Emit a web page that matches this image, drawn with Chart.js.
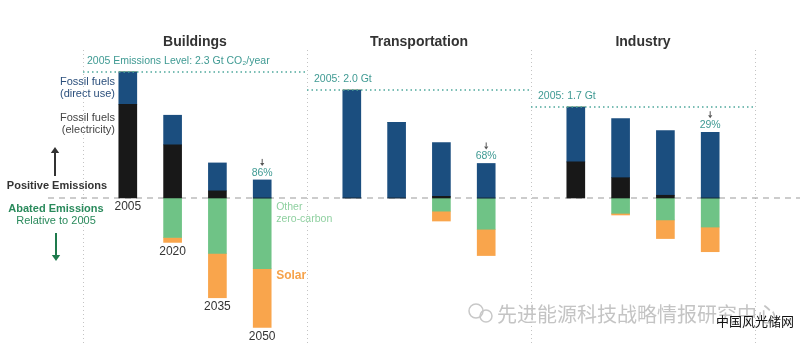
<!DOCTYPE html>
<html>
<head>
<meta charset="utf-8">
<script src="https://cdn.jsdelivr.net/npm/chart.js@4.4.1/dist/chart.umd.min.js"></script>
<style>
html, body { margin: 0; padding: 0; background: #fff; }
#wrap { width: 800px; height: 350px; position: relative; }
</style>
</head>
<body>
<div id="wrap"><canvas id="chart"></canvas></div>
<script>
var sectores = ['Buildings', 'Transportation', 'Industry'];
var anios = ['2005', '2020', '2035', '2050'];
var nivelBase = ['2005 Emissions Level: 2.3 Gt CO\u2082/year', '2005: 2.0 Gt', '2005: 1.7 Gt'];
var reduccion = ['86%', '68%', '29%'];

// Gt CO2 por sector (buildings, transportation, industry) x 2005/2020/2035/2050
var fosilElectricidad = [1.71, 0.97, 0.13, 0, 0, 0, 0.03, 0, 0.66, 0.37, 0.05, 0];
var fosilDirecto = [0.59, 0.54, 0.51, 0.33, 1.97, 1.38, 0.98, 0.63, 1.0, 1.08, 1.18, 1.2];
var otroCeroCarbono = [0, -0.72, -1.01, -1.29, 0, 0, -0.24, -0.57, 0, -0.28, -0.40, -0.53];
var solar = [0, -0.09, -0.81, -1.07, 0, 0, -0.18, -0.48, 0, -0.03, -0.34, -0.45];

var FUENTE = "'Liberation Sans', Arial, sans-serif";

// slots: hueco, 4 anios, hueco, 4 anios, hueco, 4 anios, hueco
function conHuecos(arr) {
    var out = [null];
    for (var s = 0; s < sectores.length; s++) {
        for (var a = 0; a < anios.length; a++) out.push(arr[s * 4 + a]);
        out.push(null);
    }
    return out;
}
var etiquetas = conHuecos(sectores.flatMap(function (s) { return anios.map(function (a) { return s + ' ' + a; }); }))
    .map(function (v) { return v === null ? '' : v; });

function slot(s, a) { return 1 + s * 5 + a; }

function texto(ctx, t, x, y, font, color, align) {
    ctx.font = font;
    ctx.fillStyle = color;
    ctx.textAlign = align || 'left';
    ctx.textBaseline = 'middle';
    ctx.fillText(t, x, y);
}

function flecha(ctx, x, y1, y2, color, ancho, cabeza) {
    var dir = y2 > y1 ? 1 : -1;
    ctx.save();
    ctx.strokeStyle = color;
    ctx.fillStyle = color;
    ctx.lineWidth = ancho;
    ctx.beginPath();
    ctx.moveTo(x, y1);
    ctx.lineTo(x, y2 - dir * cabeza);
    ctx.stroke();
    ctx.beginPath();
    ctx.moveTo(x, y2);
    ctx.lineTo(x - cabeza * 0.7, y2 - dir * cabeza);
    ctx.lineTo(x + cabeza * 0.7, y2 - dir * cabeza);
    ctx.closePath();
    ctx.fill();
    ctx.restore();
}

var lineaCero = {
    id: 'lineaCero',
    beforeDatasetsDraw: function (chart) {
        var ctx = chart.ctx;
        var y0 = chart.scales.y.getPixelForValue(0);
        ctx.save();
        ctx.strokeStyle = '#9a9a9a';
        ctx.lineWidth = 1.2;
        ctx.setLineDash([6, 5]);
        ctx.beginPath();
        ctx.moveTo(48, y0);
        ctx.lineTo(800, y0);
        ctx.stroke();
        ctx.restore();
    }
};

var anotaciones = {
    id: 'anotaciones',
    afterDatasetsDraw: function (chart) {
        var ctx = chart.ctx;
        var xs = chart.scales.x, ys = chart.scales.y;
        ctx.save();

        for (var s = 0; s < sectores.length; s++) {
            var xa = xs.getPixelForValue(s * 5);
            var xb = xs.getPixelForValue((s + 1) * 5);
            var i05 = s * 4;
            var yBase = ys.getPixelForValue(fosilElectricidad[i05] + fosilDirecto[i05]);

            texto(ctx, sectores[s], (xa + xb) / 2, 42, 'bold 14px ' + FUENTE, '#333333', 'center');

            ctx.save();
            ctx.strokeStyle = '#4fa89c';
            ctx.lineWidth = 1.5;
            ctx.setLineDash([1.5, 3]);
            ctx.beginPath();
            ctx.moveTo(xa, yBase);
            ctx.lineTo(xb, yBase);
            ctx.stroke();
            ctx.restore();
            texto(ctx, nivelBase[s], xa + (s === 0 ? 4 : 7), yBase - 11, '10.5px ' + FUENTE, '#3f9a93');

            var i50 = s * 4 + 3;
            var xp = xs.getPixelForValue(slot(s, 3));
            var yTop = ys.getPixelForValue(fosilElectricidad[i50] + fosilDirecto[i50]);
            texto(ctx, reduccion[s], xp, yTop - 7, '10.5px ' + FUENTE, '#3f9a93', 'center');
            flecha(ctx, xp, yTop - 21, yTop - 14, '#555555', 1, 3);
        }

        // anios debajo de cada barra de buildings
        for (var a = 0; a < anios.length; a++) {
            var abajo = Math.min(0, otroCeroCarbono[a] + solar[a]);
            texto(ctx, anios[a], xs.getPixelForValue(slot(0, a)), ys.getPixelForValue(abajo) + 9,
                '12px ' + FUENTE, '#333333', 'center');
        }

        // leyenda a la izquierda
        var f11 = '11px ' + FUENTE;
        texto(ctx, 'Fossil fuels', 115, 82, f11, '#2b4f7c', 'right');
        texto(ctx, '(direct use)', 115, 94, f11, '#2b4f7c', 'right');
        texto(ctx, 'Fossil fuels', 115, 118, f11, '#444444', 'right');
        texto(ctx, '(electricity)', 115, 130, f11, '#444444', 'right');

        flecha(ctx, 55, 176, 147, '#333333', 2, 6);
        texto(ctx, 'Positive Emissions', 57, 186, 'bold 11px ' + FUENTE, '#333333', 'center');
        texto(ctx, 'Abated Emissions', 56, 209, 'bold 11px ' + FUENTE, '#2a8a5c', 'center');
        texto(ctx, 'Relative to 2005', 56, 221, f11, '#2a8a5c', 'center');
        flecha(ctx, 56, 233, 261, '#1e7a4c', 2, 6);

        var xl = xs.getPixelForValue(slot(0, 3)) + 14;
        texto(ctx, 'Other', xl, 207, '10.5px ' + FUENTE, '#8fd0a0');
        texto(ctx, 'zero-carbon', xl, 219, '10.5px ' + FUENTE, '#8fd0a0');
        texto(ctx, 'Solar', xl, 276, 'bold 12px ' + FUENTE, '#f6a24a');

        // marca de agua
        ctx.strokeStyle = '#c8c8c8';
        ctx.lineWidth = 1.5;
        ctx.beginPath();
        ctx.arc(476, 311, 7, 0, Math.PI * 2);
        ctx.stroke();
        ctx.beginPath();
        ctx.arc(486, 316, 6, 0, Math.PI * 2);
        ctx.stroke();
        texto(ctx, '先进能源科技战略情报研究中心', 497, 314, '20px "Noto Sans CJK SC"', '#c4c4c4');
        texto(ctx, '中国风光储网', 716, 321, '13px "Noto Sans CJK SC"', '#111111');

        ctx.restore();
    }
};

var ctx = document.getElementById('chart');
var grafico = new Chart(ctx, {
    type: 'bar',
    data: {
        labels: etiquetas,
        datasets: [
            { label: 'Fossil fuels (electricity)', data: conHuecos(fosilElectricidad), backgroundColor: '#181818' },
            { label: 'Fossil fuels (direct use)', data: conHuecos(fosilDirecto), backgroundColor: '#1b4e7f' },
            { label: 'Other zero-carbon', data: conHuecos(otroCeroCarbono), backgroundColor: '#6fc386' },
            { label: 'Solar', data: conHuecos(solar), backgroundColor: '#f9a54c' }
        ]
    },
    options: {
        responsive: true,
        maintainAspectRatio: false,
        animation: false,
        layout: { padding: { left: 83, right: 45, top: 50, bottom: 4 } },
        datasets: { bar: { barThickness: 18 } },
        plugins: {
            legend: { display: false },
            tooltip: { enabled: false },
            title: { display: false }
        },
        scales: {
            x: {
                stacked: true,
                offset: false,
                ticks: { display: false, autoSkip: false },
                border: { display: false, dash: [1, 3] },
                grid: {
                    offset: false,
                    drawTicks: false,
                    lineWidth: 1,
                    color: function (c) { return etiquetas[c.index] === '' ? '#c4c4c4' : 'rgba(0,0,0,0)'; }
                }
            },
            y: {
                stacked: true,
                display: false,
                min: -2.7,
                max: 2.7
            }
        }
    },
    plugins: [lineaCero, anotaciones]
});
</script>
</body>
</html>
